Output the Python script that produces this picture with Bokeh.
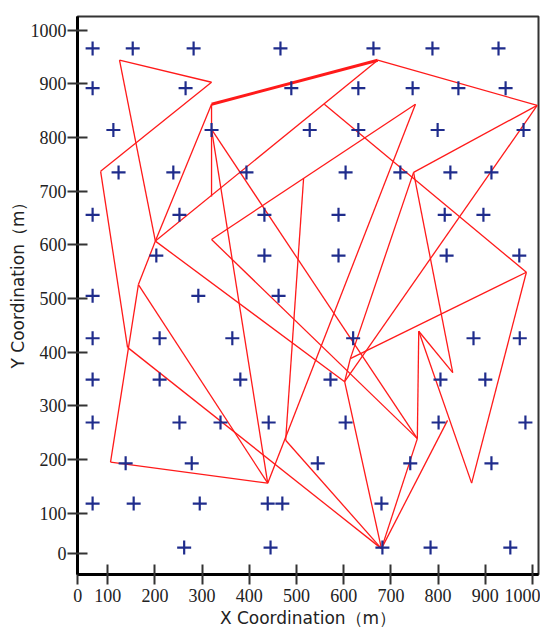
from bokeh.plotting import figure
from bokeh.models import Range1d, FixedTicker, Title
from bokeh.embed import file_html
from bokeh.resources import INLINE

# ---- sensor node positions (m) ----
node_x = [68, 153, 282, 466, 663, 788, 928,
          68, 265, 489, 631, 746, 843, 943,
          112, 320, 528, 631, 799, 981,
          123, 239, 394, 604, 720, 826, 913,
          68, 252, 432, 589, 814, 896,
          203, 432, 589, 818, 972,
          68, 292, 462,
          68, 210, 364, 620, 875, 973,
          68, 210, 381, 572, 805, 900,
          68, 252, 339, 441, 604, 801, 985,
          138, 278, 545, 741, 913,
          68, 155, 295, 439, 470, 680,
          262, 445, 682, 784, 953]
node_y = [966] * 7 + [892] * 7 + [814] * 6 + [735] * 7 + [656] * 6 + [580] * 5 + \
         [505] * 3 + [426] * 6 + [349] * 6 + [269] * 7 + [193] * 5 + [118] * 6 + [36] * 5

# ---- route waypoints (m) ----
wp_name = ["A", "B", "C", "D", "E", "E2", "E3", "F", "G", "H", "I", "J", "K", "Z",
           "L", "M", "N", "O", "P", "Q", "R", "S", "T", "U", "V", "W", "X", "Y"]
wp_x = [125, 320, 85, 201, 320, 320, 320, 672, 1010, 752, 559, 320, 515, 477,
        748, 987, 165, 142, 106, 439, 680, 756, 759, 831, 871, 602, 614, 820]
wp_y = [944, 903, 737, 607, 862, 815, 690, 944, 860, 862, 862, 610, 724, 236,
        735, 549, 526, 409, 195, 156, 34, 239, 439, 362, 156, 345, 388, 273]

# route legs (pairs of waypoints)
legs = [("A", "B"), ("B", "C"), ("A", "D"), ("C", "O"), ("O", "R"), ("N", "P"),
        ("D", "N"), ("N", "Q"), ("P", "Q"), ("E", "D"), ("E", "E3"), ("D", "F"),
        ("I", "M"), ("F", "G"), ("G", "L"), ("G", "W"), ("L", "U"), ("L", "X"),
        ("X", "M"), ("W", "X"), ("D", "W"), ("W", "R"), ("E2", "Q"), ("E2", "S"),
        ("J", "H"), ("J", "S"), ("H", "Q"), ("K", "Z"), ("Z", "R"), ("T", "U"),
        ("T", "S"), ("T", "V"), ("V", "M"), ("S", "R"), ("R", "Y")]
heavy_legs = [("E", "F")]

# axis ticks; the corner "0" labels sit at the range origin marks
x_ticks = [36.5, 100, 200, 300, 400, 500, 600, 700, 800, 900, 1000]
y_ticks = [25, 100, 200, 300, 400, 500, 600, 700, 800, 900, 1000]
x_zero_tick = 36.5
y_zero_tick = 25

pos = {n: (x, y) for n, x, y in zip(wp_name, wp_x, wp_y)}


def seg_cols(pairs):
    return ([pos[a][0] for a, b in pairs], [pos[a][1] for a, b in pairs],
            [pos[b][0] for a, b in pairs], [pos[b][1] for a, b in pairs])


p = figure(width=540, height=632, output_backend="svg", toolbar_location=None,
           x_range=Range1d(36.0, 1012.7), y_range=Range1d(-14.2, 1025.5),
           min_border_left=77, min_border_right=2, min_border_top=16, min_border_bottom=58)
p.background_fill_color = "white"
p.border_fill_color = "white"
p.outline_line_color = "#333333"
p.outline_line_width = 2
p.xgrid.visible = False
p.ygrid.visible = False

x0, y0, x1, y1 = seg_cols(legs)
p.segment(x0=x0, y0=y0, x1=x1, y1=y1, line_color="#ff1a1a", line_width=1.3)
hx0, hy0, hx1, hy1 = seg_cols(heavy_legs)
p.segment(x0=hx0, y0=hy0, x1=hx1, y1=hy1, line_color="#ff1a1a", line_width=3)

p.scatter(node_x, node_y, marker="cross", size=14, line_width=2.2, line_color="#1f2c8c")

for ax, ticks in ((p.xaxis, x_ticks), (p.yaxis, y_ticks)):
    ax.ticker = FixedTicker(ticks=ticks)
    ax.minor_tick_line_color = None
    ax.axis_line_color = "black"
    ax.axis_line_width = 3
    ax.major_tick_line_color = "#333333"
    ax.major_tick_line_width = 2
    ax.major_tick_in = 10
    ax.major_tick_out = 10
    ax.major_label_text_font = "Liberation Serif"
    ax.major_label_text_font_size = "18px"
    ax.major_label_text_color = "#222222"
p.xaxis.major_label_overrides = {x_zero_tick: "0"}
p.yaxis.major_label_overrides = {y_zero_tick: "0"}
p.yaxis.major_label_standoff = 1
p.xaxis.major_label_standoff = 4

p.xaxis.axis_label = "X Coordination（m）"
p.xaxis.axis_label_text_font = "DejaVu Sans"
p.xaxis.axis_label_text_font_size = "17px"
p.xaxis.axis_label_text_font_style = "normal"
p.xaxis.axis_label_text_color = "#222222"
p.xaxis.axis_label_standoff = 3

ytitle = Title(text="Y Coordination（m）", align="left", offset=206, standoff=0,
               text_font="DejaVu Sans", text_font_size="17px", text_font_style="normal",
               text_color="#222222")
p.add_layout(ytitle, "left")

open("out.html", "w").write(file_html(p, INLINE))
